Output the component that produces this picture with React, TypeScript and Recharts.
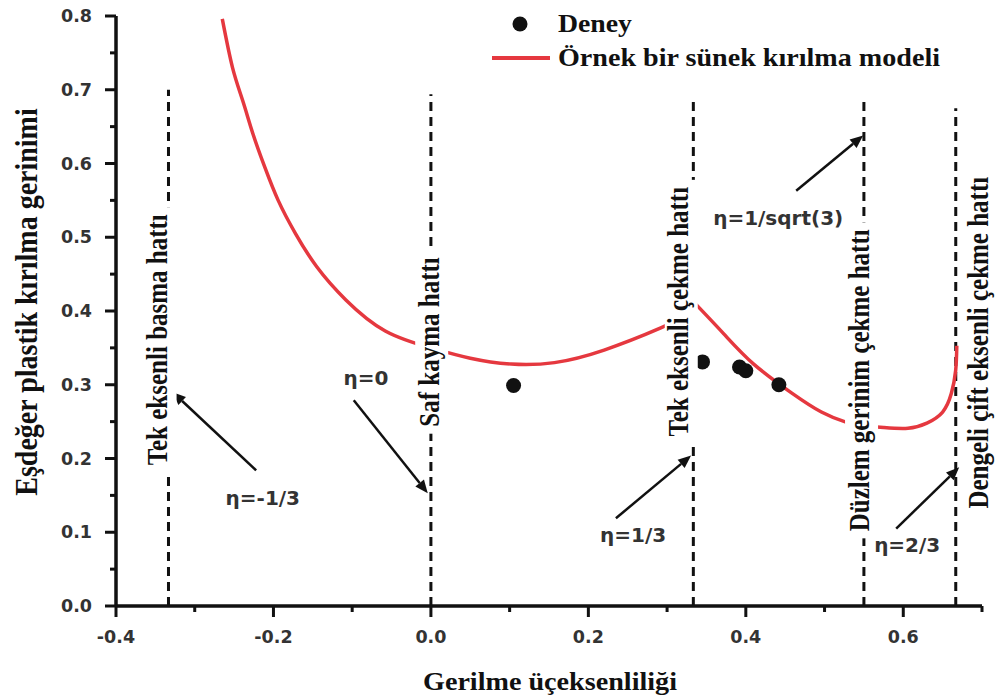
import React from 'react';
import {
  ComposedChart,
  Line,
  Scatter,
  XAxis,
  YAxis,
  ReferenceLine,
  ReferenceDot,
  Legend,
} from 'recharts';

const RED = '#e5383f';
const INK = '#111111';
const GRAY = '#333333';
const SERIF = '"Liberation Serif", "Times New Roman", serif';
const SANS = '"DejaVu Sans", Verdana, sans-serif';

// axis ticks: every 0.1 on x (labelled every 0.2), every 0.05 on y (labelled every 0.1)
const X_TICKS = [-0.4, -0.3, -0.2, -0.1, 0, 0.1, 0.2, 0.3, 0.4, 0.5, 0.6, 0.7];
const Y_TICKS = [0, 0.05, 0.1, 0.15, 0.2, 0.25, 0.3, 0.35, 0.4, 0.45, 0.5, 0.55, 0.6, 0.65, 0.7, 0.75, 0.8];

// model curve in three pieces
const MODEL_LOW = [
  { x: -0.265, y: 0.796 },
  { x: -0.252, y: 0.730 },
  { x: -0.239, y: 0.685 },
  { x: -0.226, y: 0.640 },
  { x: -0.211, y: 0.595 },
  { x: -0.194, y: 0.550 },
  { x: -0.172, y: 0.505 },
  { x: -0.145, y: 0.460 },
  { x: -0.108, y: 0.415 },
  { x: -0.058, y: 0.373 },
  { x: 0.0, y: 0.350 },
  { x: 0.05, y: 0.336 },
  { x: 0.102, y: 0.328 },
  { x: 0.157, y: 0.330 },
  { x: 0.220, y: 0.347 },
  { x: 0.292, y: 0.377 },
  { x: 0.333, y: 0.398 },
];
const MODEL_MID = [
  { x: 0.334, y: 0.412 },
  { x: 0.372, y: 0.369 },
  { x: 0.410, y: 0.328 },
  { x: 0.458, y: 0.289 },
  { x: 0.496, y: 0.263 },
  { x: 0.528, y: 0.249 },
  { x: 0.550, y: 0.244 },
];
const MODEL_HIGH = [
  { x: 0.550, y: 0.244 },
  { x: 0.575, y: 0.242 },
  { x: 0.606, y: 0.241 },
  { x: 0.630, y: 0.248 },
  { x: 0.650, y: 0.263 },
  { x: 0.661, y: 0.288 },
  { x: 0.6665, y: 0.319 },
  { x: 0.668, y: 0.353 },
];

// experiments
const DENEY = [
  { x: 0.105, y: 0.299 },
  { x: 0.345, y: 0.331 },
  { x: 0.392, y: 0.324 },
  { x: 0.400, y: 0.319 },
  { x: 0.442, y: 0.300 },
];

// dashed stress-state lines
const STATE_ETA = [-1 / 3, 0, 1 / 3, 0.55, 2 / 3];
const STATE_TOP = [0.7, 0.694, 0.69, 0.688, 0.675];

// vertical captions: centre in data coords
const CAPTIONS = [
  { x: -0.344, y: 0.361, text: 'Tek eksenli basma hattı' },
  { x: 0.001, y: 0.358, text: 'Saf kayma hattı' },
  { x: 0.318, y: 0.399, text: 'Tek eksenli çekme hattı' },
  { x: 0.547, y: 0.306, text: 'Düzlem gerinim çekme hattı' },
  { x: 0.699, y: 0.357, text: 'Dengeli çift eksenli çekme hattı' },
];

// eta arrows: tail -> head
const ARROWS = [
  { from: { x: -0.222, y: 0.184 }, to: { x: -0.328, y: 0.290 } },
  { from: { x: -0.098, y: 0.279 }, to: { x: -0.004, y: 0.153 } },
  { from: { x: 0.235, y: 0.119 }, to: { x: 0.3305, y: 0.204 } },
  { from: { x: 0.464, y: 0.563 }, to: { x: 0.549, y: 0.638 } },
  { from: { x: 0.591, y: 0.105 }, to: { x: 0.671, y: 0.188 } },
];

const ETA_LABELS = [
  { x: -0.2135, y: 0.146, text: 'η=-1/3' },
  { x: -0.0826, y: 0.3085, text: 'η=0' },
  { x: 0.2568, y: 0.0958, text: 'η=1/3' },
  { x: 0.4411, y: 0.5267, text: 'η=1/sqrt(3)' },
  { x: 0.605, y: 0.0823, text: 'η=2/3' },
];

let measureCtx: CanvasRenderingContext2D | null = null;
function measure(text: string, font: string): number {
  if (!measureCtx) measureCtx = document.createElement('canvas').getContext('2d');
  if (!measureCtx) return text.length * 12;
  measureCtx.font = font;
  return measureCtx.measureText(text).width;
}

const isMajor = (v: number, step: number) => Math.abs(Math.round(v / step)) % 2 === 0;

function XTick(props: any) {
  const { x, y, payload } = props;
  const major = isMajor(payload.value, 0.1);
  return (
    <g>
      <line x1={x} x2={x} y1={y} y2={y + (major ? 11 : 6)} stroke={INK} strokeWidth={3} />
      {major && (
        <text x={x} y={y + 37} textAnchor="middle" fontFamily={SANS} fontWeight="bold" fontSize={17.5} fill={GRAY}>
          {payload.value.toFixed(1)}
        </text>
      )}
    </g>
  );
}

function YTick(props: any) {
  const { x, y, payload } = props;
  const major = isMajor(payload.value, 0.05);
  return (
    <g>
      <line x1={x - (major ? 11 : 6)} x2={x} y1={y} y2={y} stroke={INK} strokeWidth={3} />
      {major && (
        <text x={x - 24} y={y + 6} textAnchor="end" fontFamily={SANS} fontWeight="bold" fontSize={17.5} fill={GRAY}>
          {payload.value.toFixed(1)}
        </text>
      )}
    </g>
  );
}

function Arrow(props: any) {
  const { x1, y1, x2, y2 } = props;
  const len = Math.hypot(x2 - x1, y2 - y1) || 1;
  const ux = (x2 - x1) / len;
  const uy = (y2 - y1) / len;
  const bx = x2 - ux * 13;
  const by = y2 - uy * 13;
  return (
    <g>
      <line x1={x1} y1={y1} x2={bx} y2={by} stroke={INK} strokeWidth={2.5} />
      <polygon
        points={`${x2},${y2} ${bx - uy * 5.5},${by + ux * 5.5} ${bx + uy * 5.5},${by - ux * 5.5}`}
        fill={INK}
      />
    </g>
  );
}

// rotated caption; glyphs widened a little across the line, as in the source figure
function Caption({ cx, cy, text }: { cx: number; cy: number; text: string }) {
  const fs = 25;
  const w = measure(text, `bold ${fs}px ${SERIF}`);
  return (
    <g transform={`translate(${cx},${cy}) rotate(-90) scale(1,1.2)`}>
      <rect x={-w / 2 - 7} y={-0.47 * fs - 2} width={w + 14} height={0.94 * fs + 4} fill="#ffffff" />
      <text x={0} y={0.24 * fs} textAnchor="middle" fontFamily={SERIF} fontWeight="bold" fontSize={fs} fill={INK}>
        {text}
      </text>
    </g>
  );
}

function EtaLabel({ cx, cy, text }: { cx: number; cy: number; text: string }) {
  return (
    <text x={cx} y={cy + 7} textAnchor="middle" fontFamily={SANS} fontWeight="bold" fontSize={20} fill={GRAY}>
      {text}
    </text>
  );
}

function LegendBox() {
  return (
    <svg width={500} height={76} style={{ display: 'block' }}>
      <circle cx={40} cy={24} r={7.5} fill={INK} />
      <text x={78} y={32} fontFamily={SERIF} fontWeight="bold" fontSize={25} fill={INK} textLength={74} lengthAdjust="spacingAndGlyphs">
        Deney
      </text>
      <line x1={12} x2={70} y1={58} y2={58} stroke={RED} strokeWidth={4} />
      <text x={78} y={66} fontFamily={SERIF} fontWeight="bold" fontSize={25} fill={INK} textLength={382} lengthAdjust="spacingAndGlyphs">
        Örnek bir sünek kırılma modeli
      </text>
    </svg>
  );
}

function XTitle(props: any) {
  const vb = props.viewBox || { x: 116, width: 866 };
  return (
    <text x={vb.x + vb.width / 2 + 1} y={690} textAnchor="middle" fontFamily={SERIF} fontWeight="bold" fontSize={26} fill={INK} textLength={254} lengthAdjust="spacingAndGlyphs">
      Gerilme üçeksenliliği
    </text>
  );
}

function YTitle() {
  return (
    <text transform="translate(37,302) rotate(-90) scale(1,1.15)" textAnchor="middle" fontFamily={SERIF} fontWeight="bold" fontSize={28} fill={INK}>
      Eşdeğer plastik kırılma gerinimi
    </text>
  );
}

export default function App() {
  return (
    <div style={{ position: 'absolute', left: 0, top: 0, background: '#fff' }}>
      <ComposedChart width={996} height={698} margin={{ top: 16, right: 14, bottom: 52, left: 56 }}>
        <XAxis
          type="number"
          dataKey="x"
          domain={[-0.4, 0.7]}
          ticks={X_TICKS}
          allowDataOverflow
          height={40}
          tickSize={0}
          tickMargin={0}
          tickLine={false}
          axisLine={{ stroke: INK, strokeWidth: 3.5 }}
          tick={<XTick />}
          interval={0}
          label={{ content: XTitle }}
        />
        <YAxis
          type="number"
          dataKey="y"
          domain={[0, 0.8]}
          ticks={Y_TICKS}
          allowDataOverflow
          width={60}
          tickSize={0}
          tickMargin={0}
          tickLine={false}
          axisLine={{ stroke: INK, strokeWidth: 3.5 }}
          tick={<YTick />}
          interval={0}
          label={{ content: YTitle }}
        />
        <Legend
          verticalAlign="middle"
          align="center"
          layout="horizontal"
          wrapperStyle={{ top: 0, left: 480, width: 500, height: 76 }}
          content={() => <LegendBox />}
        />

        {STATE_ETA.map((eta, i) => (
          <ReferenceLine
            key={`state-${i}`}
            segment={[{ x: eta, y: 0 }, { x: eta, y: STATE_TOP[i] }]}
            stroke={INK}
            strokeWidth={3}
            strokeDasharray="9 6"
          />
        ))}

        <Line data={MODEL_LOW} dataKey="y" type="natural" stroke={RED} strokeWidth={3.5} dot={false} activeDot={false} isAnimationActive={false} />
        <Line data={MODEL_MID} dataKey="y" type="natural" stroke={RED} strokeWidth={3.5} dot={false} activeDot={false} isAnimationActive={false} />
        <Line data={MODEL_HIGH} dataKey="y" type="natural" stroke={RED} strokeWidth={3.5} dot={false} activeDot={false} isAnimationActive={false} />
        <Scatter
          data={DENEY}
          dataKey="y"
          fill={INK}
          isAnimationActive={false}
          shape={(p: any) => <circle cx={p.cx} cy={p.cy} r={7.5} fill={INK} />}
        />

        {ARROWS.map((a, i) => (
          <ReferenceLine key={`arrow-${i}`} segment={[a.from, a.to]} shape={Arrow} />
        ))}

        {CAPTIONS.map((c, i) => (
          <ReferenceDot
            key={`cap-${i}`}
            x={c.x}
            y={c.y}
            zIndex={1500}
            shape={(p: any) => <Caption cx={p.cx} cy={p.cy} text={c.text} />}
          />
        ))}
        {ETA_LABELS.map((l, i) => (
          <ReferenceDot
            key={`eta-${i}`}
            x={l.x}
            y={l.y}
            zIndex={1500}
            shape={(p: any) => <EtaLabel cx={p.cx} cy={p.cy} text={l.text} />}
          />
        ))}
      </ComposedChart>
    </div>
  );
}
